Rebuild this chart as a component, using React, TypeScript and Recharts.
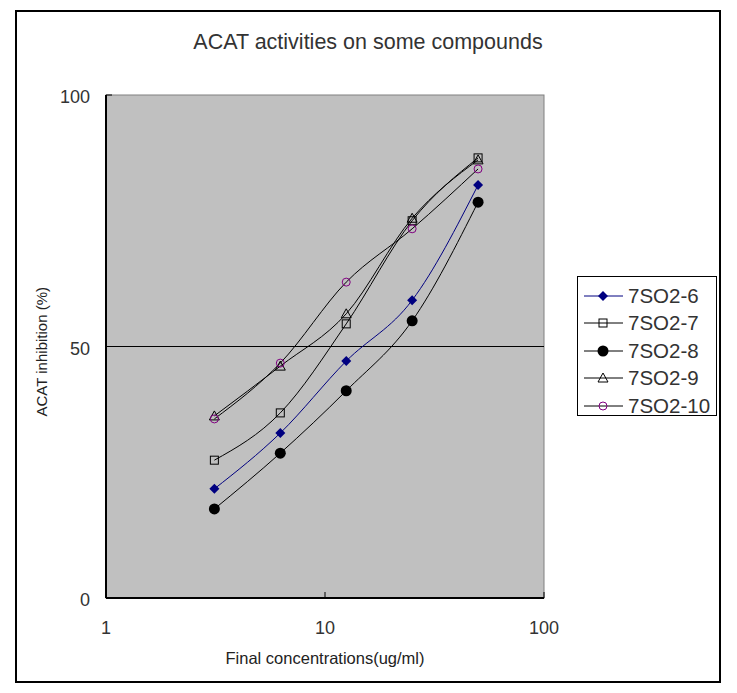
import React from "react";
import {
  ComposedChart,
  Line,
  XAxis,
  YAxis,
  ReferenceLine,
  Legend,
} from "recharts";

// concentrations (ug/ml), log scale
const concentrations = [3.125, 6.25, 12.5, 25, 50];

const s6 = [21.7, 32.8, 47.1, 59.2, 82.1];
const s7 = [27.4, 36.8, 54.5, 75.0, 87.5];
const s8 = [17.7, 28.8, 41.2, 55.1, 78.7];
const s9 = [36.2, 46.1, 56.5, 75.5, 87.1];
const s10 = [35.6, 46.7, 62.8, 73.4, 85.3];

const xTicks = [1, 10, 100];
const yTicks = [0, 50, 100];

const seriesNames = ["7SO2-6", "7SO2-7", "7SO2-8", "7SO2-9", "7SO2-10"];

const FONT = "'Liberation Sans', Arial, sans-serif";

const toPoints = (vals: number[]) =>
  concentrations.map((x, i) => ({ x, y: vals[i] }));

type Shape = "diamond" | "square" | "circleFill" | "triangle" | "circle";

function Marker({ cx, cy, shape }: { cx: number; cy: number; shape: Shape }) {
  if (cx == null || cy == null) return null;
  switch (shape) {
    case "diamond":
      return (
        <polygon
          points={`${cx},${cy - 5} ${cx + 5},${cy} ${cx},${cy + 5} ${cx - 5},${cy}`}
          fill="#000080"
        />
      );
    case "square":
      return (
        <rect x={cx - 4} y={cy - 4} width={8} height={8} fill="none" stroke="#000" strokeWidth={1} />
      );
    case "circleFill":
      return <circle cx={cx} cy={cy} r={5.5} fill="#000" />;
    case "triangle":
      return (
        <polygon
          points={`${cx},${cy - 5} ${cx + 5},${cy + 4} ${cx - 5},${cy + 4}`}
          fill="none"
          stroke="#000"
          strokeWidth={1}
        />
      );
    default:
      return <circle cx={cx} cy={cy} r={4} fill="none" stroke="#800080" strokeWidth={1} />;
  }
}

const series: { name: string; data: number[]; color: string; shape: Shape }[] = [
  { name: seriesNames[0], data: s6, color: "#000080", shape: "diamond" },
  { name: seriesNames[1], data: s7, color: "#000", shape: "square" },
  { name: seriesNames[2], data: s8, color: "#000", shape: "circleFill" },
  { name: seriesNames[3], data: s9, color: "#000", shape: "triangle" },
  { name: seriesNames[4], data: s10, color: "#000", shape: "circle" },
];

function LegendBox() {
  return (
    <div
      style={{
        width: 140,
        height: 140,
        border: "1px solid #000",
        background: "#fff",
        boxSizing: "border-box",
        paddingTop: 5,
        fontFamily: FONT,
      }}
    >
      {series.map((s) => (
        <div key={s.name} style={{ display: "flex", alignItems: "center", height: 27.5 }}>
          <svg width={50} height={16} style={{ marginLeft: 6 }}>
            <line x1={0} y1={8} x2={39} y2={8} stroke={s.color} strokeWidth={1} />
            <Marker cx={19} cy={8} shape={s.shape} />
          </svg>
          <span style={{ fontSize: 20.5, color: "#333", marginLeft: -6 }}>{s.name}</span>
        </div>
      ))}
    </div>
  );
}

export default function App() {
  return (
    <div style={{ position: "absolute", left: 0, top: 0, width: 737, height: 693, background: "#fff" }}>
      <div
        style={{
          position: "absolute",
          left: 15,
          top: 10,
          width: 706,
          height: 673,
          border: "2px solid #000",
          boxSizing: "border-box",
        }}
      />
      <ComposedChart
        width={737}
        height={693}
        margin={{ top: 95, right: 193, bottom: 55, left: 46 }}
        style={{ position: "absolute", left: 0, top: 0 }}
      >
        <text x={368} y={49} textAnchor="middle" fontSize={21.5} fill="#333" fontFamily={FONT}>
          ACAT activities on some compounds
        </text>
        <rect x={106} y={95} width={438} height={503} fill="#c0c0c0" stroke="#808080" />
        <XAxis
          type="number"
          dataKey="x"
          scale="log"
          domain={[1, 100]}
          ticks={xTicks}
          allowDataOverflow
          height={40}
          axisLine={{ stroke: "#000", strokeWidth: 2 }}
          tickLine={{ stroke: "#000" }}
          tickSize={-6}
          tick={{ fontSize: 18, fill: "#333", fontFamily: FONT, dy: 27 }}
          label={{
            value: "Final concentrations(ug/ml)",
            position: "insideBottom",
            offset: -26,
            fontSize: 16.5,
            fill: "#222",
            fontFamily: FONT,
          }}
        />
        <YAxis
          type="number"
          dataKey="y"
          domain={[0, 100]}
          ticks={yTicks}
          width={60}
          axisLine={{ stroke: "#000", strokeWidth: 2 }}
          tickLine={{ stroke: "#000" }}
          tickSize={-6}
          tick={{ fontSize: 18, fill: "#333", fontFamily: FONT, dx: -20, dy: 2 }}
          label={{
            value: "ACAT inhibition (%)",
            angle: -90,
            position: "insideLeft",
            offset: -4,
            dy: 70,
            fontSize: 15,
            fill: "#222",
            fontFamily: FONT,
          }}
        />
        <ReferenceLine y={50} stroke="#000" strokeWidth={1} />
        {series.map((s) => (
          <Line
            key={s.name}
            name={s.name}
            data={toPoints(s.data)}
            dataKey="y"
            type="monotone"
            stroke={s.color}
            strokeWidth={1}
            isAnimationActive={false}
            dot={(p: any) => <Marker key={`${s.name}-${p.index}`} cx={p.cx} cy={p.cy} shape={s.shape} />}
            activeDot={false}
          />
        ))}
        <Legend
          layout="vertical"
          align="center"
          verticalAlign="middle"
          content={() => <LegendBox />}
          wrapperStyle={{ position: "absolute", left: 577, top: 276, width: 140 }}
        />
      </ComposedChart>
    </div>
  );
}
